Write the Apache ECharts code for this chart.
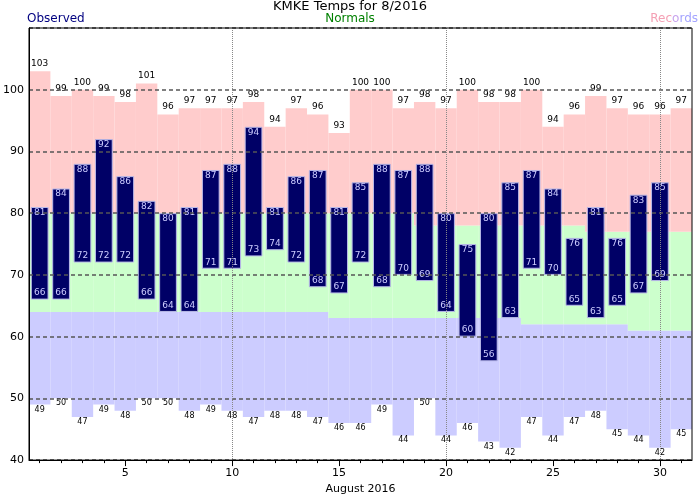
<!DOCTYPE html>
<html><head><meta charset="utf-8">
<script src="https://cdn.jsdelivr.net/npm/echarts@6/dist/echarts.min.js"></script>
<style>html,body{margin:0;padding:0;background:#fff}#c{width:700px;height:500px}</style>
</head><body><div id="c"></div>
<script>
const days = ['1','2','3','4','5','6','7','8','9','10','11','12','13','14','15','16','17','18','19','20','21','22','23','24','25','26','27','28','29','30','31'];
const recordHigh = [103,99,100,99,98,101,96,97,97,97,98,94,97,96,93,100,100,97,98,97,100,98,98,100,94,96,99,97,96,96,97];
const recordLow  = [49,50,47,49,48,50,50,48,49,48,47,48,48,47,46,46,49,44,50,44,46,43,42,47,44,47,48,45,44,42,45];
const normalHigh = [80,80,80,80,80,80,80,80,80,80,80,80,80,80,80,80,80,80,78,78,78,78,78,78,78,78,77,77,77,77,77];
const normalLow  = [64,64,64,64,64,64,64,64,64,64,64,64,64,64,63,63,63,63,63,63,63,63,63,62,62,62,62,62,61,61,61];
const obsHigh = [81,84,88,92,86,82,80,81,87,88,94,81,86,87,81,85,88,87,88,80,75,80,85,87,84,76,81,76,83,85,null];
const obsLow  = [66,66,72,72,72,66,64,64,71,71,73,74,72,68,67,72,68,70,69,64,60,56,63,71,70,65,63,65,67,69,null];
const yMin = 40, yMax = 110, yStep = 10;

const FONT = 'DejaVu Sans';
const diff = (a, b) => a.map((v, i) => (v == null || b[i] == null) ? null : v - b[i]);

const chart = echarts.init(document.getElementById('c'), null, {renderer: 'canvas'});
chart.setOption({
  animation: false,
  backgroundColor: '#fff',
  title: [
    {text: 'KMKE Temps for 8/2016', left: 'center', top: 0, padding: 0,
     textStyle: {fontFamily: FONT, fontSize: 13, fontWeight: 'normal', color: '#000'}},
    {text: 'Observed', left: 27, top: 13, padding: 0,
     textStyle: {fontFamily: FONT, fontSize: 12, fontWeight: 'normal', color: '#000080'}},
    {text: 'Normals', left: 'center', top: 13, padding: 0,
     textStyle: {fontFamily: FONT, fontSize: 12, fontWeight: 'normal', color: '#008000'}},
    {text: '{a|Rec}{b|o}{c|rds}', right: 2, top: 13, padding: 0,
     textStyle: {fontFamily: FONT, fontSize: 12, fontWeight: 'normal',
       rich: {a: {color: '#f4a0b4', fontFamily: FONT, fontSize: 12},
              b: {color: '#c8a4ee', fontFamily: FONT, fontSize: 12},
              c: {color: '#a4a4ff', fontFamily: FONT, fontSize: 12}}}}
  ],
  grid: {left: 27, right: 8, top: 28, bottom: 31, show: true, borderColor: '#000', borderWidth: 1,
         backgroundColor: 'transparent', z: 11},
  xAxis: [
    {type: 'category', data: days, position: 'bottom', boundaryGap: true, z: 10,
     axisLine: {show: true, lineStyle: {color: '#000', width: 1}},
     axisTick: {show: true, alignWithLabel: true, interval: 0, length: 3, lineStyle: {color: '#000'}},
     axisLabel: {show: true, interval: (i) => (i + 1) % 5 === 0, margin: 8,
                 fontFamily: FONT, fontSize: 11, color: '#000'},
     splitLine: {show: true, alignWithLabel: true, interval: (i) => (i + 1) % 10 === 0,
                 lineStyle: {color: '#888', type: 'dotted', width: 1}},
     name: 'August 2016', nameLocation: 'middle', nameGap: 17,
     nameTextStyle: {fontFamily: FONT, fontSize: 11, color: '#000'}},
    {type: 'category', data: days, position: 'bottom', boundaryGap: true, z: 10,
     axisLine: {show: false},
     axisTick: {show: true, alignWithLabel: true, interval: (i) => (i + 1) % 5 === 0, length: 6,
                lineStyle: {color: '#000'}},
     axisLabel: {show: false}, splitLine: {show: false}}
  ],
  yAxis: {type: 'value', min: yMin, max: yMax, interval: yStep, z: 10,
    axisLine: {show: true, lineStyle: {color: '#000', width: 1}},
    axisTick: {show: false},
    axisLabel: {fontFamily: FONT, fontSize: 11, color: '#000', margin: 5,
                formatter: (v) => v === yMax ? '' : String(v)},
    splitLine: {show: true, lineStyle: {color: '#555', type: [4, 3], width: 1.5}}},
  series: [
    {name: 'recLowBase', type: 'bar', stack: 'bg', xAxisIndex: 0, barWidth: '100%', barCategoryGap: '0%',
     data: recordLow, silent: true, itemStyle: {color: 'transparent'},
     label: {show: true, position: 'insideTop', distance: 1, fontFamily: FONT, fontSize: 8, color: '#000',
             formatter: (p) => String(recordLow[p.dataIndex])}},
    {name: 'recLow', type: 'bar', stack: 'bg', xAxisIndex: 0, barWidth: '100%',
     data: diff(normalLow, recordLow), silent: true, itemStyle: {color: '#ccccff'}},
    {name: 'normal', type: 'bar', stack: 'bg', xAxisIndex: 0, barWidth: '100%',
     data: diff(normalHigh, normalLow), silent: true, itemStyle: {color: '#ccffcc'}},
    {name: 'recHigh', type: 'bar', stack: 'bg', xAxisIndex: 0, barWidth: '100%',
     data: diff(recordHigh, normalHigh), silent: true, itemStyle: {color: '#ffcccc'},
     label: {show: true, position: 'top', distance: 3, fontFamily: FONT, fontSize: 9, color: '#000',
             formatter: (p) => String(recordHigh[p.dataIndex])}},
    {name: 'obsBase', type: 'bar', stack: 'obs', xAxisIndex: 1, barWidth: '83%',
     data: obsLow, silent: true, itemStyle: {color: 'transparent'},
     label: {show: true, position: 'top', distance: 2, fontFamily: FONT, fontSize: 9, color: '#ccccff',
             formatter: (p) => obsLow[p.dataIndex] == null ? '' : String(obsLow[p.dataIndex])}},
    {name: 'observed', type: 'bar', stack: 'obs', xAxisIndex: 1, barWidth: '83%',
     data: diff(obsHigh, obsLow), silent: true,
     itemStyle: {color: '#000066', borderColor: '#b8b8e8', borderWidth: 1},
     label: {show: true, position: 'insideTop', distance: 1, fontFamily: FONT, fontSize: 9, color: '#ccccff',
             formatter: (p) => obsHigh[p.dataIndex] == null ? '' : String(obsHigh[p.dataIndex])}}
  ]
});
</script>
</body></html>
